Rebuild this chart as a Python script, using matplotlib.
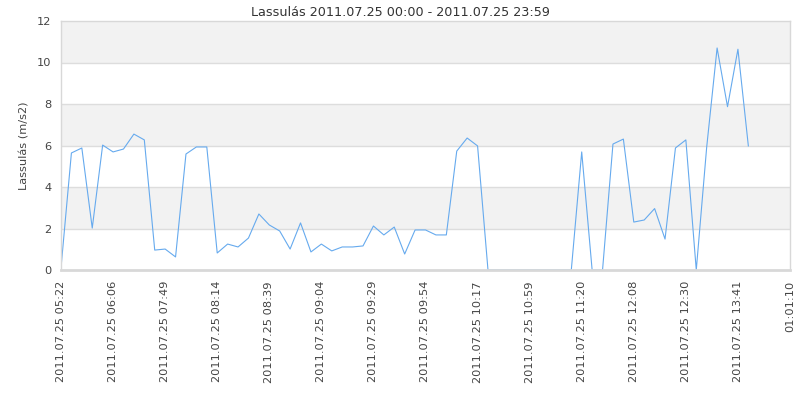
import numpy as np
import matplotlib
matplotlib.use("Agg")
import matplotlib.pyplot as plt

# ========================= Data =========================
title = "Lassulás 2011.07.25 00:00 - 2011.07.25 23:59"
y_label = "Lassulás (m/s2)"

lassulas = [
    0.1, 5.64, 5.88, 2.02, 6.02, 5.69, 5.83, 6.55, 6.27, 0.96,
    1.01, 0.63, 5.59, 5.93, 5.93, 0.82, 1.25, 1.11, 1.54, 2.70,
    2.17, 1.88, 1.01, 2.27, 0.87, 1.25, 0.92, 1.11, 1.11, 1.16,
    2.12, 1.69, 2.07, 0.77, 1.93, 1.93, 1.69, 1.69, 5.73, 6.36,
    5.98, 0.0, 0.0, 0.0, 0.0, 0.0, 0.0, 0.0, 0.0, 0.0,
    5.69, 0.0, 0.0, 6.07, 6.31, 2.31, 2.41, 2.96, 1.49, 5.88,
    6.27, 0.0, 5.92, 10.7, 7.87, 10.64, 5.98,
]
n_categories = 71

tick_idx = [0, 5, 10, 15, 20, 25, 30, 35, 40, 45, 50, 55, 60, 65, 70]
tick_labels = [
    "2011.07.25 05:22", "2011.07.25 06:06", "2011.07.25 07:49",
    "2011.07.25 08:14", "2011.07.25 08:39", "2011.07.25 09:04",
    "2011.07.25 09:29", "2011.07.25 09:54", "2011.07.25 10:17",
    "2011.07.25 10:59", "2011.07.25 11:20", "2011.07.25 12:08",
    "2011.07.25 12:30", "2011.07.25 13:41", "01:01:10",
]

# ========================= Plot =========================
fig = plt.figure(figsize=(8, 4), dpi=100)
ax = fig.add_axes([61 / 800, 1 - 270 / 400, 729 / 800, 249 / 400])

# alternating bands
for lo in range(2, 12, 4):
    ax.axhspan(lo, lo + 2, color="#f2f2f2", lw=0, zorder=0)
for y in range(2, 12, 2):
    ax.axhline(y, color="#dddddd", lw=1, zorder=0.5)

ax.plot(range(len(lassulas)), lassulas, color="#66aaee", lw=0.8, zorder=2)

ax.set_xlim(0, n_categories - 1)
ax.set_ylim(0, 12)
ax.set_yticks(range(0, 13, 2))
ax.set_xticks(tick_idx)
ax.set_xticklabels(tick_labels, rotation=90, va="top", ha="center")
ax.tick_params(length=0, labelsize=8.2, colors="#444444", pad=8)
ax.tick_params(axis="y", pad=7)

for s in ax.spines.values():
    s.set_color("#d8d8d8")
    s.set_linewidth(1)
    s.set_zorder(3)
# zero values sit under the bottom frame line, as in the original
ax.spines["bottom"].set_linewidth(2)

ax.set_ylabel(y_label, fontsize=8.2, color="#444444", labelpad=5)
fig.text(400 / 800, 1 - 12 / 400, title, ha="center", va="center", fontsize=9.2, color="#333333")

fig.savefig("out.png", dpi=100)
